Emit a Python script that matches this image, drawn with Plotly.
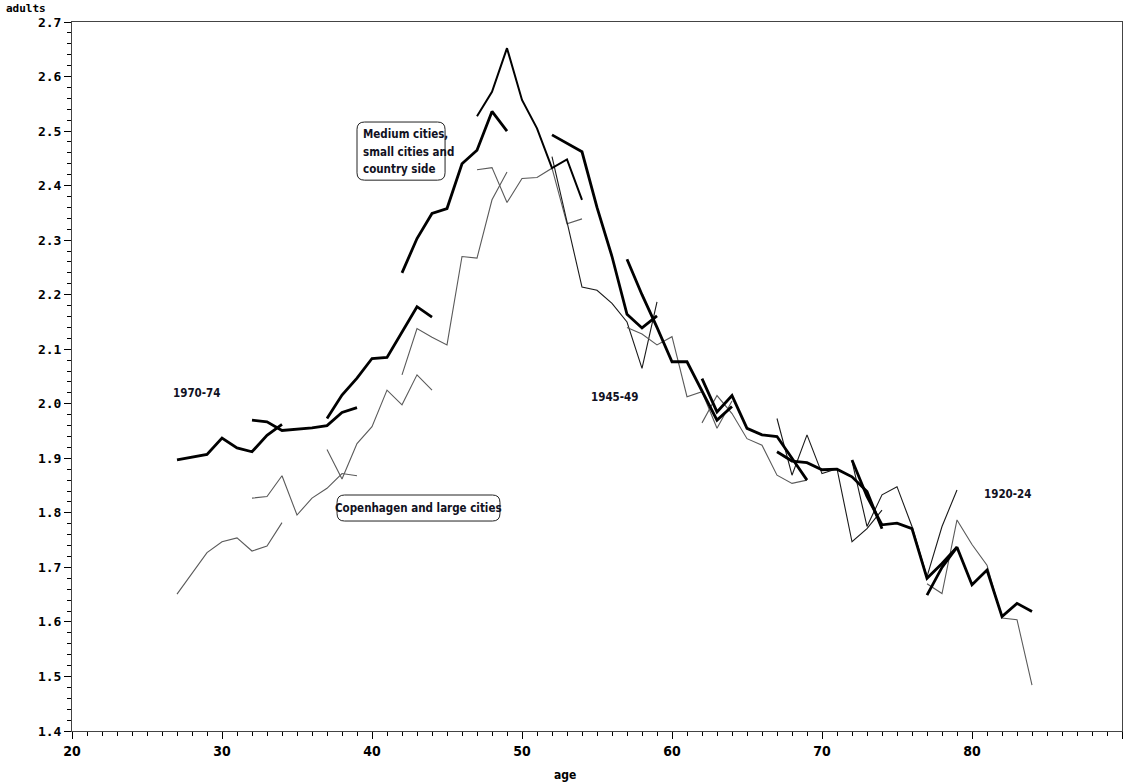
import plotly.graph_objects as go

# ---------------- data ----------------
cohort_start_ages = [27, 32, 37, 42, 47, 52, 57, 62, 67, 72, 77]
points_per_cohort = 8

# Medium cities, small cities and country side (thick lines)
medium_values = [
    [1.897, 1.902, 1.907, 1.937, 1.919, 1.912, 1.942, 1.962],
    [1.970, 1.967, 1.951, 1.953, 1.956, 1.960, 1.984, 1.993],
    [1.973, 2.016, 2.047, 2.083, 2.085, 2.132, 2.178, 2.159],
    [2.240, 2.303, 2.349, 2.358, 2.440, 2.465, 2.536, 2.500],
    [2.527, 2.572, 2.652, 2.557, 2.505, 2.432, 2.448, 2.374],
    [2.493, 2.477, 2.462, 2.360, 2.270, 2.164, 2.139, 2.161],
    [2.265, 2.200, 2.140, 2.077, 2.077, 2.022, 1.970, 1.995],
    [2.046, 1.985, 2.015, 1.955, 1.943, 1.940, 1.900, 1.860],
    [1.912, 1.895, 1.892, 1.879, 1.880, 1.866, 1.839, 1.771],
    [1.897, 1.830, 1.778, 1.781, 1.771, 1.680, 1.707, 1.737],
    [1.649, 1.700, 1.737, 1.668, 1.695, 1.610, 1.634, 1.619],
]

# Copenhagen and large cities (thin lines)
copenhagen_values = [
    [1.651, 1.689, 1.727, 1.747, 1.754, 1.730, 1.739, 1.782],
    [1.827, 1.830, 1.868, 1.796, 1.827, 1.845, 1.872, 1.868],
    [1.916, 1.862, 1.927, 1.958, 2.025, 1.998, 2.053, 2.025],
    [2.053, 2.138, 2.122, 2.108, 2.270, 2.267, 2.374, 2.425],
    [2.429, 2.433, 2.369, 2.413, 2.415, 2.432, 2.330, 2.339],
    [2.453, 2.333, 2.214, 2.208, 2.184, 2.150, 2.065, 2.187],
    [2.140, 2.128, 2.108, 2.123, 2.013, 2.022, 1.955, 2.005],
    [1.965, 2.015, 1.982, 1.936, 1.924, 1.869, 1.854, 1.860],
    [1.973, 1.869, 1.943, 1.872, 1.881, 1.747, 1.771, 1.805],
    [1.895, 1.775, 1.833, 1.848, 1.775, 1.683, 1.775, 1.842],
    [1.670, 1.652, 1.787, 1.742, 1.704, 1.607, 1.604, 1.484],
]

cohort_labels = ["1970-74", "1945-49", "1920-24"]
cohort_label_pos = [(28.3, 2.02), (56.2, 2.012), (82.4, 1.835)]

medium_label_lines = ["Medium cities,", "small cities and", "country side"]
medium_label_x = 39.25
medium_label_y = [2.494, 2.462, 2.430]
medium_box = (39.0, 44.87, 2.410, 2.5166)

copenhagen_label = "Copenhagen and large cities"
copenhagen_label_pos = (43.1, 1.809)
copenhagen_box = (37.67, 48.53, 1.785, 1.8327)

y_ticks = [1.4, 1.5, 1.6, 1.7, 1.8, 1.9, 2.0, 2.1, 2.2, 2.3, 2.4, 2.5, 2.6, 2.7]
x_ticks = [20, 30, 40, 50, 60, 70, 80, 90]

# ---------------- figure ----------------
fig = go.Figure()

thin_dark = {5, 8, 9}
for i, start in enumerate(cohort_start_ages):
    ages = list(range(start, start + points_per_cohort))
    fig.add_trace(go.Scatter(
        x=ages, y=copenhagen_values[i], mode="lines",
        line=dict(color="#1a1a1a" if i in thin_dark else "#5a5a5a", width=1.1),
        showlegend=False, hoverinfo="x+y"))
for i, start in enumerate(cohort_start_ages):
    ages = list(range(start, start + points_per_cohort))
    fig.add_trace(go.Scatter(
        x=ages, y=medium_values[i], mode="lines",
        line=dict(color="#000000", width=2.0 if i == 4 else 2.8),
        showlegend=False, hoverinfo="x+y"))

narrow = "DejaVu Sans Condensed, Liberation Sans Narrow, Arial Narrow, sans-serif"
mono = "DejaVu Sans Mono, Liberation Mono, monospace"
label_font = dict(family=narrow, size=11.5, color="#111122", weight="bold")


def rounded_box(x0, x1, y0, y1, rx, ry):
    return (f"M {x0 + rx},{y1} L {x1 - rx},{y1} Q {x1},{y1} {x1},{y1 - ry} "
            f"L {x1},{y0 + ry} Q {x1},{y0} {x1 - rx},{y0} L {x0 + rx},{y0} "
            f"Q {x0},{y0} {x0},{y0 + ry} L {x0},{y1 - ry} Q {x0},{y1} {x0 + rx},{y1} Z")


for bx in (medium_box, copenhagen_box):
    fig.add_shape(type="path", xref="x", yref="y",
                  path=rounded_box(bx[0], bx[1], bx[2], bx[3], 0.5, 0.0135),
                  line=dict(color="#222222", width=1), fillcolor="rgba(0,0,0,0)", layer="above")

for txt, (ax, ay) in zip(cohort_labels, cohort_label_pos):
    fig.add_annotation(x=ax, y=ay, text=txt, showarrow=False, font=label_font)

for txt, ay in zip(medium_label_lines, medium_label_y):
    fig.add_annotation(x=medium_label_x, y=ay, text=txt, showarrow=False,
                       xanchor="left", font=label_font)

fig.add_annotation(x=copenhagen_label_pos[0], y=copenhagen_label_pos[1], text=copenhagen_label,
                   showarrow=False, font=label_font)

fig.add_annotation(xref="paper", yref="paper", x=0, y=1, xanchor="right", yanchor="bottom",
                   xshift=-24, yshift=5, text="adults", showarrow=False,
                   font=dict(family=mono, size=11, color="#000000", weight="bold"))
fig.add_annotation(xref="paper", yref="paper", x=0.4695, y=0, xanchor="center", yanchor="top",
                   yshift=-35, text="age", showarrow=False,
                   font=dict(family=narrow, size=12, color="#000000", weight="bold"))

fig.update_xaxes(range=[20, 90], tickvals=x_ticks, ticks="outside", ticklen=7, tickwidth=1,
                 tickcolor="#000", showline=True, linecolor="#444", linewidth=1, mirror=True,
                 showgrid=False, zeroline=False,
                 minor=dict(dtick=1, ticks="outside", ticklen=4, tickcolor="#000"),
                 tickfont=dict(family=narrow, size=14, color="#000", weight="bold"))
fig.update_yaxes(range=[1.4, 2.7], tickvals=y_ticks, tickformat=".1f", ticks="outside",
                 ticklen=7, tickwidth=1, tickcolor="#000", showline=True, linecolor="#444",
                 linewidth=1, mirror=True, showgrid=False, zeroline=False,
                 minor=dict(dtick=0.02, ticks="outside", ticklen=4, tickcolor="#000"),
                 tickfont=dict(family=mono, size=13, color="#000", weight="bold"))

fig.update_layout(width=1124, height=782, margin=dict(l=72, r=2, t=22, b=51),
                  plot_bgcolor="white", paper_bgcolor="white")

fig.write_html("out.html", config={"displayModeBar": False},
               post_script="document.body.style.margin='0px';")
